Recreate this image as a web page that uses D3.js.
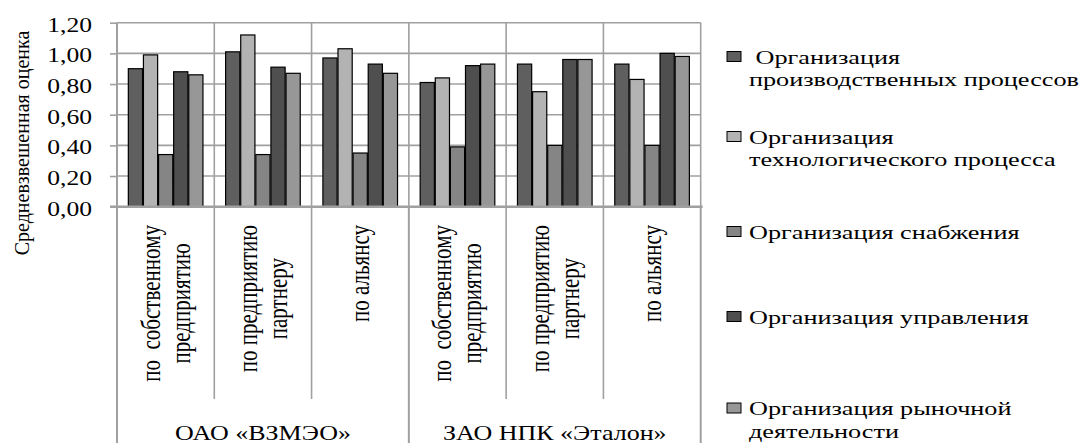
<!DOCTYPE html>
<html>
<head>
<meta charset="utf-8">
<script src="https://cdn.jsdelivr.net/npm/d3@7"></script>
</head>
<body style="margin:0">
<script>
// ---------- data ----------
const categories = [
  "по  собственному\nпредприятию",
  "по предприятию\nпартнеру",
  "по альянсу",
  "по  собственному\nпредприятию",
  "по предприятию\nпартнеру",
  "по альянсу"
];
const groups = ["ОАО «ВЗМЭО»", "ЗАО НПК «Эталон»"];
const groupSizes = [3, 3];
const seriesNames = [
  " Организация\nпроизводственных процессов",
  "Организация\nтехнологического процесса",
  "Организация снабжения",
  "Организация управления",
  "Организация рыночной\nдеятельности"
];
const prodProcess   = [0.90, 1.01, 0.97, 0.81, 0.93, 0.93];
const techProcess   = [0.99, 1.12, 1.03, 0.84, 0.75, 0.83];
const supply        = [0.34, 0.34, 0.35, 0.39, 0.40, 0.40];
const management    = [0.88, 0.91, 0.93, 0.92, 0.96, 1.00];
const marketing     = [0.86, 0.87, 0.87, 0.93, 0.96, 0.98];
const seriesValues = [prodProcess, techProcess, supply, management, marketing];
const seriesColors = ["#5f5f5f", "#b3b3b3", "#858585", "#4f4f4f", "#979797"];
const yTicks = [0, 0.2, 0.4, 0.6, 0.8, 1.0, 1.2];
const yTitle = "Средневзвешенная оценка";

// ---------- layout ----------
const W = 1091, H = 443;
const plot = { left: 117, right: 700.7, top: 22.7, bottom: 206.7 };
const gridColor = "#a0a0a0";
const stretch = 1.3;
const FONT = '"Liberation Serif"';

const keepSpaces = s => s.replace(/^ /, "\u00A0").replace(/  /g, "\u00A0 ");
const mctx = document.createElement("canvas").getContext("2d");
function measure(s, size) {
  mctx.font = `${size}px "Liberation Serif", serif`;
  return mctx.measureText(s).width;
}

const svg = d3.select("body").append("svg").attr("width", W).attr("height", H);
// text placed inside a transformed group (the text itself carries no transform)
function placedText(parent, transform, size, str, anchor) {
  const g = parent.append("g").attr("transform", transform);
  return g.append("text").attr("x", 0).attr("y", 0)
    .style("font-family", FONT).attr("font-size", size)
    .attr("text-anchor", anchor || "start")
    .text(str);
}

const y = d3.scaleLinear().domain([0, 1.2]).range([plot.bottom, plot.top]);
const x0 = d3.scaleBand().domain(d3.range(categories.length)).range([plot.left, plot.right]).padding(0);
const x1 = d3.scaleBand().domain(d3.range(seriesValues.length)).range([0, x0.bandwidth()])
  .paddingInner(0.06).paddingOuter(0.75);

// horizontal gridlines
svg.append("g").selectAll("line").data(yTicks).join("line")
  .attr("x1", plot.left).attr("x2", plot.right)
  .attr("y1", d => y(d)).attr("y2", d => y(d))
  .attr("stroke", gridColor).attr("stroke-width", 1.6);

// vertical gridlines at category boundaries
const bounds = d3.range(categories.length + 1).map(i => i < categories.length ? x0(i) : plot.right);
svg.append("g").selectAll("line").data(bounds).join("line")
  .attr("x1", d => d).attr("x2", d => d)
  .attr("y1", plot.top).attr("y2", plot.bottom)
  .attr("stroke", gridColor).attr("stroke-width", 1.6);

// bars
const barG = svg.append("g");
categories.forEach((c, ci) => {
  seriesValues.forEach((vals, si) => {
    barG.append("rect")
      .attr("x", x0(ci) + x1(si))
      .attr("y", y(vals[ci]))
      .attr("width", x1.bandwidth())
      .attr("height", y(0) - y(vals[ci]))
      .attr("fill", seriesColors[si])
      .attr("stroke", "#000").attr("stroke-width", 1.2);
  });
});

// y axis (tick marks from d3 axis, labels placed in stretched groups)
const yAxis = d3.axisLeft(y).tickValues(yTicks).tickSize(7).tickFormat("");
const yg = svg.append("g").attr("transform", `translate(${plot.left},0)`).call(yAxis);
yg.select(".domain").remove();
yg.selectAll(".tick line").attr("stroke", gridColor).attr("stroke-width", 1.6);
const fmt = d => d3.format(".2f")(d).replace(".", ",");
yTicks.forEach(t => {
  placedText(svg, `translate(${plot.left - 25},${y(t) + 9}) scale(1.28,1)`, 20, fmt(t), "end");
});

// left axis line extending down through label area
svg.append("line").attr("x1", plot.left).attr("x2", plot.left)
  .attr("y1", plot.top).attr("y2", H)
  .attr("stroke", gridColor).attr("stroke-width", 2);

// x axis line
svg.append("line").attr("x1", plot.left - 7).attr("x2", plot.right + 2)
  .attr("y1", plot.bottom).attr("y2", plot.bottom)
  .attr("stroke", gridColor).attr("stroke-width", 2.4);

// category separators under axis
const groupStarts = [0];
groupSizes.forEach((s, i) => groupStarts.push(groupStarts[i] + s));
bounds.forEach((bx, i) => {
  const isGroup = groupStarts.includes(i);
  svg.append("line").attr("x1", bx).attr("x2", bx)
    .attr("y1", plot.bottom).attr("y2", isGroup ? H : 399)
    .attr("stroke", gridColor).attr("stroke-width", isGroup ? 2 : 1.6);
});

// category labels (rotated)
const catTop = 225;
const lineStep = 30;
categories.forEach((c, ci) => {
  const lines = c.split("\n").map(keepSpaces);
  const cx = x0(ci) + x0.bandwidth() / 2;
  const L = d3.max(lines, ln => measure(ln, 21));
  const n = lines.length;
  lines.forEach((ln, li) => {
    const bx = cx + 9 + (li - (n - 1) / 2) * lineStep;
    placedText(svg, `translate(${bx},${catTop + L / 2}) scale(${stretch},1) rotate(-90)`, 21, ln, "middle");
  });
});

// group labels
groups.forEach((gname, gi) => {
  const a = x0(groupStarts[gi]);
  const b = groupStarts[gi + 1] < categories.length ? x0(groupStarts[gi + 1]) : plot.right;
  placedText(svg, `translate(${(a + b) / 2},440) scale(${stretch},1)`, 20, gname, "middle");
});

// y axis title
placedText(svg, `translate(29,143) rotate(-90)`, 20, yTitle, "middle");

// legend
const legendBaselines = [63.5, 143.5, 238.5, 323.5, 415];
const legendX = 727;
seriesNames.forEach((name, si) => {
  const by = legendBaselines[si];
  svg.append("rect")
    .attr("x", legendX).attr("y", by - 12)
    .attr("width", 14).attr("height", 10)
    .attr("fill", seriesColors[si]).attr("stroke", "#000").attr("stroke-width", 1);
  name.split("\n").forEach((ln, li) => {
    placedText(svg, `translate(${legendX + 22},${by + li * 22.5}) scale(1.38,1)`, 19, keepSpaces(ln));
  });
});
</script>
</body>
</html>
